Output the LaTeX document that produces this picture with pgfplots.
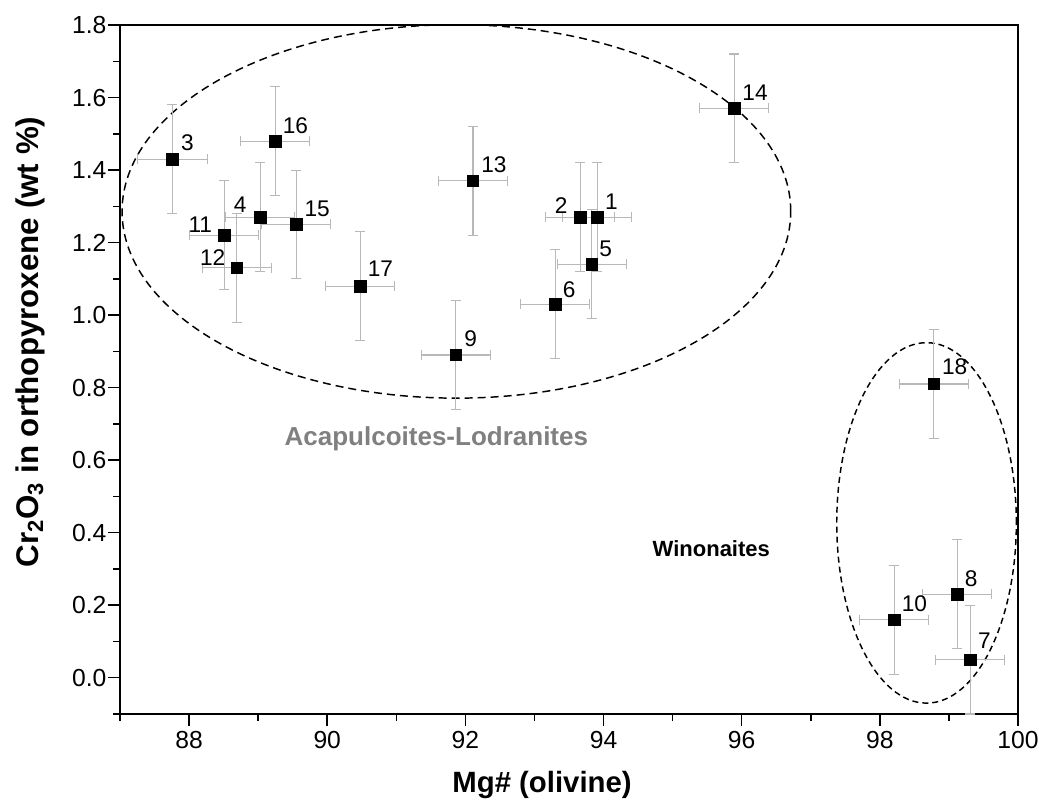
\documentclass[border=0pt]{standalone}
\usepackage{fontspec}
\setmainfont{Liberation Sans}
\usepackage{pgfplots}
\pgfplotsset{compat=1.18}
\definecolor{errgray}{gray}{0.72}
\definecolor{txtgray}{gray}{0.5}
\begin{document}
\begin{tikzpicture}
\begin{axis}[
  scale only axis, width=673.5pt, height=516.75pt,
  xmin=87, xmax=100, ymin=-0.1, ymax=1.8,
  xtick={88,90,92,94,96,98,100}, minor xtick={87,89,91,93,95,97,99},
  ytick={0,0.2,0.4,0.6,0.8,1.0,1.2,1.4,1.6,1.8},
  minor ytick={-0.1,0.1,0.3,0.5,0.7,0.9,1.1,1.3,1.5,1.7},
  tick pos=left, tick align=outside,
  major tick length=9pt, minor tick length=5pt,
  every tick/.style={black, line width=1.1pt},
  axis line style={line width=1.3pt},
  /pgf/number format/assume math mode=true,
  xticklabel style={font=\fontsize{18.5}{22}\selectfont, anchor=north, inner sep=0pt, yshift=-4pt},
  yticklabel style={/pgf/number format/fixed, /pgf/number format/fixed zerofill, /pgf/number format/precision=1, font=\fontsize{18.5}{22}\selectfont, anchor=east, inner sep=0pt, xshift=-1pt},
  xlabel={Mg\# (olivine)},
  ylabel={Cr\textsubscript{2}O\textsubscript{3} in orthopyroxene (wt \%)},
  xlabel style={font=\fontsize{22}{26}\selectfont\bfseries, at={(axis description cs:0.47,-0.103)}, anchor=center},
  ylabel style={font=\fontsize{23.5}{27}\selectfont\bfseries, at={(axis description cs:-0.1002,0.54)}, anchor=center},
]
\coordinate (SW) at (rel axis cs:0,0);
\coordinate (NE) at (rel axis cs:1,1);
\draw[black, line width=1.1pt, dash pattern=on 6pt off 3.75pt] (axis cs:91.87,1.286) ellipse [x radius=4.84, y radius=0.515];
\draw[black, line width=1.1pt, dash pattern=on 4.5pt off 3pt] (axis cs:98.676,0.427) ellipse [x radius=1.30, y radius=0.497];
\addplot[
  only marks, mark=square*, mark size=4.3pt, black,
  error bars/.cd, x dir=both, x explicit, y dir=both, y explicit,
  error bar style={errgray, line width=0.8pt},
  error mark options={rotate=90, errgray, mark size=3.75pt, line width=0.8pt},
] table[x=x, y=y, x error=ex, y error=ey] {
x y ex ey
93.91 1.27 0.5 0.15
93.66 1.27 0.5 0.15
87.76 1.43 0.5 0.15
89.03 1.27 0.5 0.15
93.83 1.14 0.5 0.15
93.30 1.03 0.5 0.15
99.31 0.05 0.5 0.15
99.12 0.23 0.5 0.15
91.86 0.89 0.5 0.15
98.21 0.16 0.5 0.15
88.51 1.22 0.5 0.15
88.69 1.13 0.5 0.15
92.11 1.37 0.5 0.15
95.89 1.57 0.5 0.15
89.55 1.25 0.5 0.15
89.25 1.48 0.5 0.15
90.48 1.08 0.5 0.15
98.78 0.81 0.5 0.15
};
\addplot[
  only marks, mark=none,
  point meta=explicit symbolic,
  visualization depends on={\thisrow{dx} \as \lbx},
  visualization depends on={\thisrow{dy} \as \lby},
  nodes near coords,
  nodes near coords style={anchor=center, xshift=\lbx pt, yshift=\lby pt, font=\fontsize{17}{20}\selectfont, text=black, inner sep=0pt},
] table[x=x, y=y, meta=id] {
x y id dx dy
93.91 1.27 1 10.5 11.25
93.66 1.27 2 -14.25 9
87.76 1.43 3 11.25 12
89.03 1.27 4 -15 9
93.83 1.14 5 10.5 12
93.30 1.03 6 10.5 11.25
99.31 0.05 7 10.5 14.25
99.12 0.23 8 10.5 12
91.86 0.89 9 11.25 12
98.21 0.16 10 15 12
88.51 1.22 11 -18 8.25
88.69 1.13 12 -18 7.5
92.11 1.37 13 15.75 12
95.89 1.57 14 15.75 12
89.55 1.25 15 15.75 12
89.25 1.48 16 15 11.25
90.48 1.08 17 15 12.75
98.78 0.81 18 15.75 12.75
};
\node[font=\fontsize{19.5}{23}\selectfont\bfseries, text=txtgray] at (axis cs:91.58,0.659) {Acapulcoites-Lodranites};
\node[font=\fontsize{16.5}{20}\selectfont\bfseries, text=black] at (axis cs:95.56,0.356) {Winonaites};
\end{axis}
\pgfresetboundingbox
\path[use as bounding box] ([shift={(-90pt,-69.75pt)}]SW) rectangle ([shift={(15.75pt,18.75pt)}]NE);
\end{tikzpicture}
\end{document}
